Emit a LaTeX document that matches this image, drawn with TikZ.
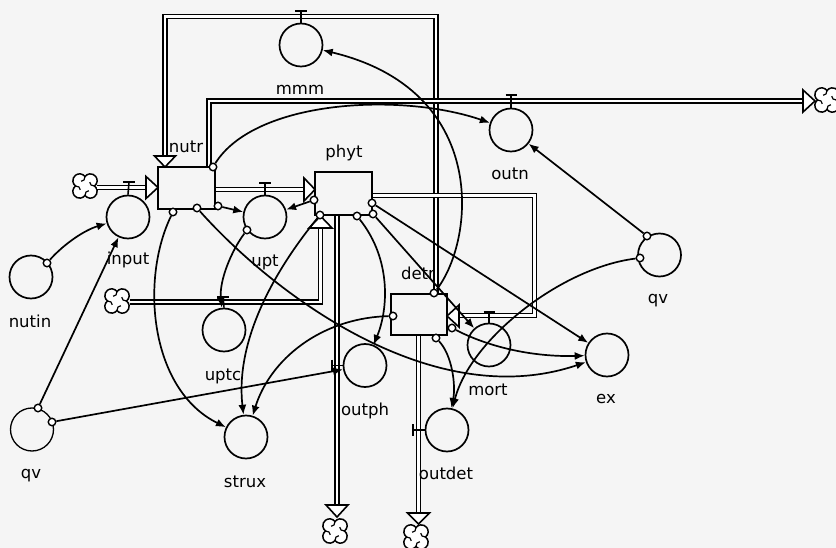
\documentclass[tikz,border=0pt]{standalone}
\usepackage{fontspec}
\setmainfont{DejaVu Sans}
\usetikzlibrary{arrows.meta}
\tikzset{
  cloudpic/.pic={
    \draw[line width=1.5pt,fill=white] (0,7) arc[start angle=143.13,end angle=-53.13,radius=5]
      arc[start angle=53.13,end angle=-143.13,radius=5]
      arc[start angle=-36.87,end angle=-233.13,radius=5]
      arc[start angle=-126.87,end angle=-323.13,radius=5] -- cycle;
    \draw[line width=1.2pt] (0,7) .. controls (0,5) and (1,3.5) .. (2.8,3.5);
    \draw[line width=1.2pt] (7,0) .. controls (5,0) and (3.5,-1) .. (3.5,-2.8);
    \draw[line width=1.2pt] (0,-7) .. controls (0,-5) and (-1,-3.5) .. (-2.8,-3.5);
    \draw[line width=1.2pt] (-7,0) .. controls (-5,0) and (-3.5,1) .. (-3.5,2.8);
  }
}
\begin{document}
\begin{tikzpicture}[x=1pt,y=-1pt,
  conv/.style={circle,draw,line width=1.7pt,minimum size=43pt,inner sep=0pt},
  stock/.style={draw,line width=1.7pt,inner sep=0pt},
  lbl/.style={font=\fontsize{16.5}{17}\selectfont,anchor=base,inner sep=0pt},
  pipe/.style={draw=black,line width=1.7pt,double=white,double distance=2.2pt,line join=miter},
  conn/.style={line width=1.7pt,-{Latex[length=10pt,width=8pt]}},
  org/.style={circle,draw,fill=white,line width=1.4pt,minimum size=7.5pt,inner sep=0pt},
  parr/.style={draw,fill=white,line width=1.6pt,line join=miter},
  valve/.style={line width=1.6pt},
  vbar/.style={line width=2.2pt},
]
\fill[black!4] (0,0) rectangle (836,548);
\useasboundingbox (0,0) rectangle (836,548);

% clouds
\pic[scale=1.35] (c1) at (85,186) {cloudpic};
\pic[scale=1.35] (c2) at (117,301) {cloudpic};
\pic[scale=1.35] (c3) at (827,100) {cloudpic};
\pic[scale=1.35] (c4) at (335,531) {cloudpic};
\pic[scale=1.35] (c5) at (416,537) {cloudpic};

% pipes
\draw[pipe] (436,294) -- (436,16.5) -- (165,16.5) -- (165,157);
\draw[pipe] (209,167) -- (209,101) -- (804,101);
\draw[pipe] (97,187.5) -- (147,187.5);
\draw[pipe] (215,189.5) -- (305,189.5);
\draw[pipe] (130,302) -- (320.5,302) -- (320.5,227);
\draw[pipe] (337,215) -- (337,506);
\draw[pipe] (418.5,335) -- (418.5,514);
\draw[pipe] (372,195.5) -- (534.5,195.5) -- (534.5,315.5) -- (458,315.5);

% pipe arrowheads
\draw[parr] (154.5,156) -- (175.5,156) -- (165,167) -- cycle;
\draw[parr] (803,90) -- (803,112) -- (815,101) -- cycle;
\draw[parr] (146,176.5) -- (146,198.5) -- (158,187.5) -- cycle;
\draw[parr] (304,178) -- (304,201) -- (315,189.5) -- cycle;
\draw[parr] (309,228) -- (332,228) -- (320.5,216) -- cycle;
\draw[parr] (326,505) -- (348,505) -- (337,517) -- cycle;
\draw[parr] (407.5,513) -- (429.5,513) -- (418.5,524) -- cycle;
\draw[parr] (459,305) -- (459,327) -- (447,316) -- cycle;

% stocks
\node[stock,minimum width=57pt,minimum height=42pt] (nutr) at (186.5,188) {};
\node[stock,minimum width=57pt,minimum height=43pt] (phyt) at (343.5,193.5) {};
\node[stock,minimum width=56pt,minimum height=41pt] (detr) at (419,314.5) {};

% converters / valves
\node[conv] (topc) at (301,45) {};
\node[conv] (outn) at (511,130) {};
\node[conv] (input) at (128,217) {};
\node[conv] (upt) at (265,217) {};
\node[conv] (nutin) at (31,277) {};
\node[conv] (uptc) at (224,330) {};
\node[conv] (strux) at (246,437) {};
\node[conv,line width=1.3pt] (qvl) at (32,429.5) {};
\node[conv] (outph) at (365,365.5) {};
\node[conv] (outdet) at (447,430) {};
\node[conv] (mort) at (489,345) {};
\node[conv] (ex) at (607,355) {};
\node[conv] (qvr) at (659.5,255) {};

% valve stems and bars
\draw[valve] (topc.north) -- (301,11); \draw[vbar] (295,11) -- (307,11);
\draw[valve] (outn.north) -- (511,95); \draw[vbar] (505.5,95) -- (516.5,95);
\draw[valve] (input.north) -- (129,182); \draw[vbar] (123,182) -- (135,182);
\draw[valve] (upt.north) -- (265,183); \draw[vbar] (259,183) -- (271,183);
\draw[valve] (uptc.north) -- (223,297); \draw[vbar] (217,297) -- (229,297);
\draw[valve] (mort.north) -- (489,312.5); \draw[vbar] (483.5,312.5) -- (494.5,312.5);
\draw[valve] (outph.west) -- (332,365.5); \draw[vbar] (332,359.5) -- (332,371.5);
\draw[valve] (outdet.west) -- (413,430); \draw[vbar] (413,424) -- (413,436);

% labels
\node[lbl] (Lnutr) at (186,153) {nutr};
\node[lbl] (Lphyt) at (344,158) {phyt};
\node[lbl] (Lmmm) at (300,95) {mmm};
\node[lbl] (Loutn) at (510,180) {outn};
\node[lbl] (Linput) at (128,265) {input};
\node[lbl] (Lupt) at (265,267) {upt};
\node[lbl] (Ldetr) at (418,280) {detr};
\node[lbl] (Lnutin) at (30,327) {nutin};
\node[lbl] (Luptc) at (223,381) {uptc};
\node[lbl] (Lqvl) at (31,478) {qv};
\node[lbl] (Lstrux) at (245,487) {strux};
\node[lbl] (Loutph) at (365,415) {outph};
\node[lbl] (Lmort) at (488,395) {mort};
\node[lbl] (Lex) at (606,403) {ex};
\node[lbl] (Loutdet) at (446,479) {outdet};
\node[lbl] (Lqvr) at (658,304) {qv};

% connector origins
\node[org] (oNutin) at (47,263) {};
\node[org] (oQv1) at (38,408) {};
\node[org] (oQv2) at (52,422) {};
\node[org] (oNutrT) at (213,167) {};
\node[org] (oNutrB1) at (173,212) {};
\node[org] (oNutrB2) at (197,208) {};
\node[org] (oNutrB3) at (218,206) {};
\node[org] (oUpt) at (247,230) {};
\node[org] (oPhL) at (314,200) {};
\node[org] (oPhB1) at (320,215) {};
\node[org] (oPhB2) at (357,216) {};
\node[org] (oPhR1) at (372,203) {};
\node[org] (oPhR2) at (373,214) {};
\node[org] (oDeT) at (434,293) {};
\node[org] (oDeL) at (393,316) {};
\node[org] (oDeR) at (452,328) {};
\node[org] (oDeB) at (436,338) {};
\node[org] (oQvR1) at (647,236) {};
\node[org] (oQvR2) at (640,258) {};

% connectors
\draw[conn] (oNutin) .. controls (65,243) and (85,230) .. (input);
\draw[conn] (oQv1) -- (input);
\draw[conn] (oQv2) -- (outph);
\draw[conn] (oNutrT) .. controls (255,100) and (400,92) .. (outn);
\draw[conn] (oDeT) .. controls (475,240) and (490,90) .. (topc);
\draw[conn] (oQvR1) -- (outn);
\draw[conn] (oQvR2) .. controls (560,268) and (470,340) .. (outdet);
\draw[conn] (oPhL) -- (upt);
\draw[conn] (oNutrB3) -- (upt);
\draw[conn] (oUpt) .. controls (232,250) and (219,280) .. (uptc);
\draw[conn] (oNutrB1) .. controls (140,280) and (150,390) .. (strux);
\draw[conn] (oNutrB2) .. controls (270,290) and (430,415) .. (ex);
\draw[conn] (oPhB1) .. controls (275,270) and (235,340) .. (strux);
\draw[conn] (oDeL) .. controls (320,318) and (270,360) .. (strux);
\draw[conn] (oPhB2) .. controls (392,260) and (388,310) .. (outph);
\draw[conn] (oPhR1) -- (ex);
\draw[conn] (oPhR2) -- (mort);
\draw[conn] (oDeR) .. controls (495,350) and (540,357) .. (ex);
\draw[conn] (oDeB) .. controls (452,355) and (456,385) .. (outdet);
\end{tikzpicture}
\end{document}
